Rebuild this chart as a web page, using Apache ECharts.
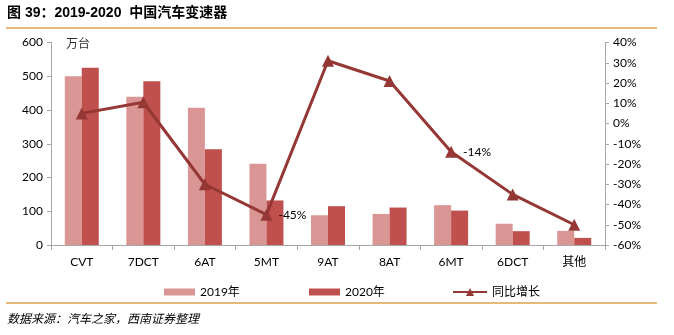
<!DOCTYPE html>
<html>
<head>
<meta charset="utf-8">
<script src="https://cdn.jsdelivr.net/npm/echarts@6/dist/echarts.min.js"></script>
<style>
  html, body { margin: 0; padding: 0; background: #fff; }
  #chart { width: 674px; height: 335px; }
</style>
</head>
<body>
<div id="chart"></div>
<script>
// Transmission types
const categories = ['CVT', '7DCT', '6AT', '5MT', '9AT', '8AT', '6MT', '6DCT', '其他'];
// Volume, 10k units
const sales2019 = [500, 439, 407, 241, 88, 92, 118, 63, 42];
const sales2020 = [525, 485, 284, 132, 115, 111, 102, 41, 21];
// Year-on-year change, %
const yoyGrowth = [5, 10.5, -30, -45, 31, 21, -14, -35, -50];
// Points whose value is written beside the marker
const labelledPoints = ['5MT', '6MT'];

const seriesNames = ['2019年', '2020年', '同比增长'];
const FONT = 'Lato, "Noto Sans CJK SC", sans-serif';

const chart = echarts.init(document.getElementById('chart'), null, { renderer: 'canvas' });

const lineData = yoyGrowth.map((v, i) => {
  const item = { value: v };
  if (labelledPoints.includes(categories[i])) {
    item.label = {
      show: true, position: 'right', distance: 6,
      formatter: p => Math.round(p.value) + '%',
      color: '#000', fontSize: 12, fontFamily: FONT
    };
  }
  return item;
});

chart.setOption({
  animation: false,
  textStyle: { fontFamily: FONT },
  grid: { left: 51, right: 69, top: 42.5, bottom: 90 },
  graphic: [
    { type: 'text', left: 7, top: 6,
      style: { text: '图 39：2019-2020  中国汽车变速器', font: 'bold 14px "Liberation Sans", "Noto Sans CJK SC", sans-serif', fill: '#000' } },
    { type: 'line', shape: { x1: 6, y1: 28, x2: 657, y2: 28 }, style: { stroke: '#DDA24A', lineWidth: 1.5 } },
    { type: 'line', shape: { x1: 6, y1: 303, x2: 657, y2: 303 }, style: { stroke: '#DDA24A', lineWidth: 1.5 } },
    { type: 'text', left: 7, top: 312,
      style: { text: '数据来源：汽车之家，西南证券整理', font: 'italic 12px "Noto Sans CJK SC", sans-serif', fill: '#000' } },
    { type: 'text', left: 66, top: 37,
      style: { text: '万台', font: '12px "Noto Sans CJK SC", sans-serif', fill: '#333' } }
  ],
  legend: [
    { data: [seriesNames[0]], left: 159, top: 281, itemWidth: 31, itemHeight: 7, icon: 'rect',
      textStyle: { fontSize: 12, color: '#000', fontFamily: FONT } },
    { data: [seriesNames[1]], left: 304, top: 281, itemWidth: 31, itemHeight: 7, icon: 'rect',
      textStyle: { fontSize: 12, color: '#000', fontFamily: FONT } },
    { data: [seriesNames[2]], left: 447, top: 281, itemWidth: 34, itemHeight: 10,
      textStyle: { fontSize: 12, color: '#000', fontFamily: FONT } }
  ],
  xAxis: {
    type: 'category',
    data: categories,
    axisLine: { lineStyle: { color: '#A6A6A6' } },
    axisTick: { show: true, alignWithLabel: false, length: 5, lineStyle: { color: '#A6A6A6' } },
    axisLabel: { color: '#000', fontSize: 12, margin: 11 }
  },
  yAxis: [
    {
      type: 'value', min: 0, max: 600, interval: 100,
      splitLine: { show: false },
      axisLine: { show: true, lineStyle: { color: '#A6A6A6' } },
      axisTick: { show: true, length: 4, lineStyle: { color: '#A6A6A6' } },
      axisLabel: { color: '#000', fontSize: 12, margin: 8 }
    },
    {
      type: 'value', min: -60, max: 40, interval: 10,
      splitLine: { show: false },
      axisLine: { show: true, lineStyle: { color: '#A6A6A6' } },
      axisTick: { show: true, length: 4, lineStyle: { color: '#A6A6A6' } },
      axisLabel: { color: '#000', fontSize: 12, margin: 8, formatter: '{value}%' }
    }
  ],
  series: [
    { name: seriesNames[0], type: 'bar', data: sales2019, barWidth: 17, barGap: '0%',
      itemStyle: { color: '#D99694' } },
    { name: seriesNames[1], type: 'bar', data: sales2020, barWidth: 17,
      itemStyle: { color: '#C0504D' } },
    { name: seriesNames[2], type: 'line', yAxisIndex: 1, data: lineData,
      symbol: 'triangle', symbolSize: 12,
      lineStyle: { color: '#953735', width: 3 },
      itemStyle: { color: '#953735' } }
  ]
});
</script>
</body>
</html>
